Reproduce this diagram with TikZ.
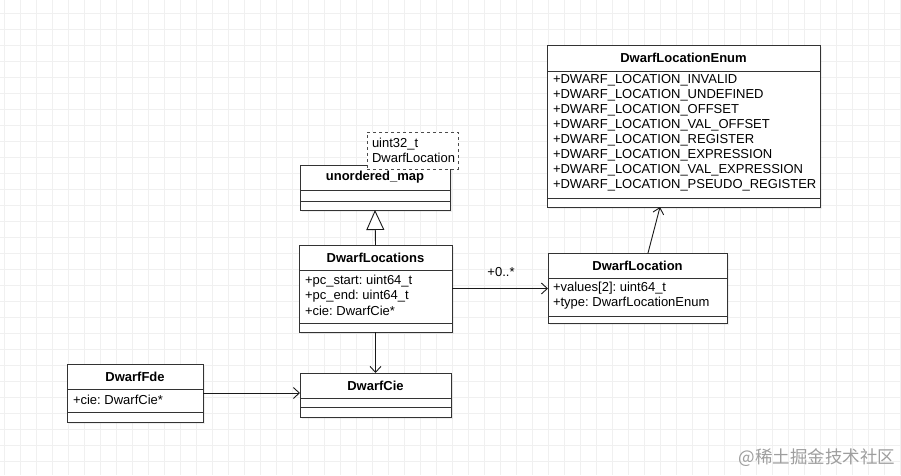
\documentclass[tikz,border=0pt]{standalone}
\usepackage{fontspec}
\setmainfont{Liberation Sans}
\newfontfamily\cjk{Noto Sans CJK SC}
\usetikzlibrary{arrows.meta,calc,shadows}
\frenchspacing
\begin{document}
\begin{tikzpicture}[x=1pt,y=-1pt,
  every node/.style={inner sep=0pt, outer sep=0pt},
  cls/.style={draw=black!80, line width=0.9pt, fill=white, rectangle, anchor=north west,
    drop shadow={shadow xshift=2pt, shadow yshift=-2pt, opacity=0.12}},
  sepline/.style={draw=black!80, line width=0.9pt},
  hdr/.style={font=\fontsize{13}{15}\selectfont\bfseries},
  attr/.style={font=\fontsize{13}{15}\selectfont, anchor=west},
  gridline/.style={draw=black!6, line width=0.8pt},
  conn/.style={draw=black!90, line width=0.9pt},
  openarrow/.style={conn, -{Straight Barb[length=6pt, width=11pt, line width=0.9pt]}},
  inherit/.style={conn, -{Triangle[open, length=20pt, width=18pt, fill=white, line width=0.9pt]}}
]
\useasboundingbox (0,0) rectangle (901,475);
\fill[white] (0,0) rectangle (901,475);
% grid
\foreach \x in {4,20,...,900} \draw[gridline] (\x,0) -- (\x,475);
\foreach \y in {13,29,...,475} \draw[gridline] (0,\y) -- (901,\y);

% unordered_map
\node[cls, minimum width=150pt, minimum height=45pt] (um) at (300,165) {};
\draw[sepline] (300,190) -- (450,190);
\draw[sepline] (300,201) -- (450,201);
\node[hdr] (umt) at (375,177.5) {unordered\_map};
% template box
\node[draw=black!70, dashed, line width=0.8pt, fill=white, anchor=north west, minimum width=91pt, minimum height=37pt] (tpl) at (367,132) {};
\node[attr] (tpl1) at (372,144) {uint32\_t};
\node[attr] (tpl2) at (372,158) {DwarfLocation};

% DwarfLocations
\node[cls, minimum width=153pt, minimum height=87pt] (dls) at (299,245) {};
\draw[sepline] (299,270) -- (452,270);
\draw[sepline] (299,323) -- (452,323);
\node[hdr] (dlst) at (375.5,257.5) {DwarfLocations};
\node[attr] (dls1) at (305,281) {+pc\_start: uint64\_t};
\node[attr] (dls2) at (305,296) {+pc\_end: uint64\_t};
\node[attr] (dls3) at (305,311) {+cie: DwarfCie*};

% DwarfLocationEnum
\node[cls, minimum width=273pt, minimum height=162pt] (dle) at (547,45) {};
\draw[sepline] (547,71) -- (820,71);
\draw[sepline] (547,198) -- (820,198);
\node[hdr] (dlet) at (683.5,58) {DwarfLocationEnum};
\node[attr] (e1) at (553,80) {+DWARF\_LOCATION\_INVALID};
\node[attr] (e2) at (553,95) {+DWARF\_LOCATION\_UNDEFINED};
\node[attr] (e3) at (553,110) {+DWARF\_LOCATION\_OFFSET};
\node[attr] (e4) at (553,125) {+DWARF\_LOCATION\_VAL\_OFFSET};
\node[attr] (e5) at (553,140) {+DWARF\_LOCATION\_REGISTER};
\node[attr] (e6) at (553,155) {+DWARF\_LOCATION\_EXPRESSION};
\node[attr] (e7) at (553,170) {+DWARF\_LOCATION\_VAL\_EXPRESSION};
\node[attr] (e8) at (553,185) {+DWARF\_LOCATION\_PSEUDO\_REGISTER};

% DwarfLocation
\node[cls, minimum width=179pt, minimum height=70pt] (dl) at (548,253) {};
\draw[sepline] (548,278) -- (727,278);
\draw[sepline] (548,316) -- (727,316);
\node[hdr] (dlt) at (637.5,265.5) {DwarfLocation};
\node[attr] (dl1) at (553,288) {+values[2]: uint64\_t};
\node[attr] (dl2) at (553,303) {+type: DwarfLocationEnum};

% DwarfCie
\node[cls, minimum width=151pt, minimum height=44pt] (cie) at (300,373) {};
\draw[sepline] (300,398) -- (451,398);
\draw[sepline] (300,407) -- (451,407);
\node[hdr] (ciet) at (375.5,385.5) {DwarfCie};

% DwarfFde
\node[cls, minimum width=136pt, minimum height=58pt] (fde) at (67,364) {};
\draw[sepline] (67,389) -- (203,389);
\draw[sepline] (67,412) -- (203,412);
\node[hdr] (fdet) at (135,376.5) {DwarfFde};
\node[attr] (fde1) at (73,400) {+cie: DwarfCie*};

% connectors
\draw[inherit] (dls.north) -- (um.south);
\draw[openarrow] (dls.east) -- (dls.east -| dl.west);
\node[attr, anchor=center] (mult) at (501,272) {+0..*};
\coordinate (dlsrc) at ($(dl.north west)+(100,0)$);
\coordinate (dletgt) at ($(dle.south west)+(113,0)$);
\draw[openarrow] (dlsrc) -- (dletgt);
\draw[openarrow] (dls.south) -- (cie.north);
\draw[openarrow] (fde.east) -- (fde.east -| cie.west);

% watermark
\node[font=\cjk\fontsize{17.5}{20}\selectfont, text=black!38, anchor=east] (wm) at (895,458) {@稀土掘金技术社区};
\end{tikzpicture}
\end{document}
